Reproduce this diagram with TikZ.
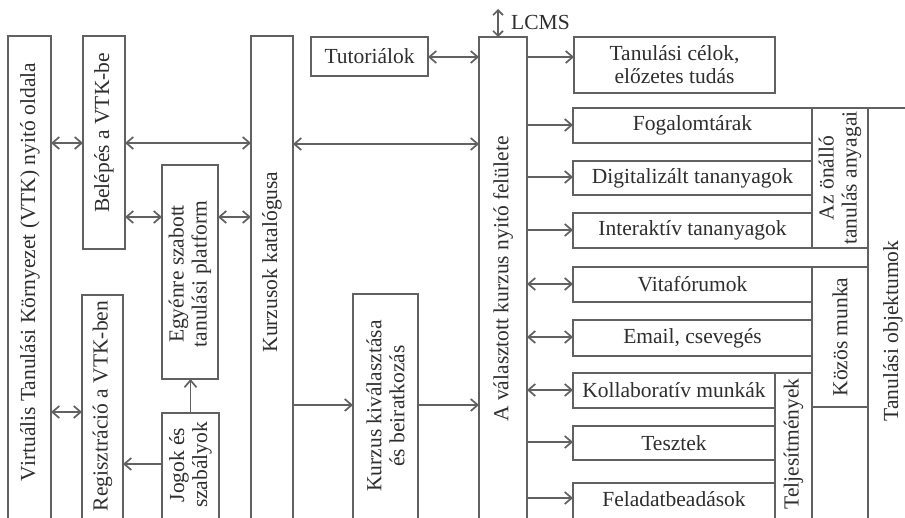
\documentclass[tikz,border=0pt]{standalone}
\usepackage{fontspec}
\setmainfont{Liberation Serif}
\usetikzlibrary{arrows.meta}
\definecolor{linegray}{gray}{0.38}
\definecolor{textgray}{gray}{0.18}
\newcommand\mybox[5]{\node[box, anchor=north west, minimum width={(#4-#2)*1pt}, minimum height={(#5-#3)*1pt}] (#1) at (#2,#3) {};}
\begin{document}
\begin{tikzpicture}[x=1pt,y=-1pt,
  >={Straight Barb[length=7pt,width=12pt,line width=1.7pt]},
  box/.style={draw=linegray, line width=1.2pt, inner sep=0pt, outer sep=0pt},
  txt/.style={text=textgray, font=\fontsize{21.5}{23}\selectfont, align=center, inner sep=0pt},
  vtxt/.style={txt, rotate=90},
  con/.style={draw=linegray, line width=1.2pt, ->},
  bicon/.style={draw=linegray, line width=1.2pt, <->},
]
\path[use as bounding box] (0,0) rectangle (905,517);
\clip (0,0) rectangle (905,517);
\fill[white] (0,0) rectangle (905,517);

% boxes
\mybox{vtk}{8}{36}{51}{540}
\mybox{bel}{83}{36}{125}{249}
\mybox{reg}{82}{295}{123}{540}
\mybox{egy}{162}{165}{218}{379}
\mybox{jog}{162}{413}{219}{540}
\mybox{kat}{251}{36}{293}{540}
\mybox{tut}{311}{37}{428}{76}
\mybox{kiv}{353}{294}{418}{540}
\mybox{val}{479}{37}{527}{540}
\mybox{cel}{574}{37}{775}{93}
\mybox{fog}{573}{108}{812}{143}
\mybox{dig}{573}{161}{812}{195}
\mybox{int}{573}{213}{812}{248}
\mybox{ona}{812}{108}{868}{248}
\mybox{vit}{573}{267}{812}{302}
\mybox{ema}{573}{320}{812}{356}
\mybox{kol}{573}{373}{775}{408}
\mybox{tes}{573}{426}{775}{460}
\mybox{fel}{573}{483}{775}{540}
\mybox{tel}{775}{373}{812}{540}
\mybox{koz}{812}{267}{868}{407}
\mybox{obj}{868}{108}{930}{540}

% texts
\node[vtxt] (tvtk) at (30,272) {Virtuális Tanulási Környezet (VTK) nyitó oldala};
\node[vtxt] (tbel) at (104,133) {Belépés a VTK-be};
\node[vtxt] (treg) at (102.5,406) {Regisztráció a VTK-ben};
\node[vtxt] (tegy) at (190,274) {Egyénre szabott\\tanulási platform};
\node[vtxt] (tjog) at (190.5,465) {Jogok és\\szabályok};
\node[vtxt] (tkat) at (272,262) {Kurzusok katalógusa};
\node[txt] (ttut) at (tut.center) {Tutoriálok};
\node[vtxt] (tkiv) at (385.5,406) {Kurzus kiválasztása\\és beiratkozás};
\node[vtxt] (tval) at (503,279) {A választott kurzus nyitó felülete};
\node[txt, anchor=west] (tlcms) at (511,22) {LCMS};
\node[txt] (tcel) at (cel.center) {Tanulási célok,\\előzetes tudás};
\node[txt] (tfog) at (fog.center) {Fogalomtárak};
\node[txt] (tdig) at (dig.center) {Digitalizált tananyagok};
\node[txt] (tint) at (int.center) {Interaktív tananyagok};
\node[vtxt] (tona) at (ona.center) {Az önálló\\tanulás anyagai};
\node[txt] (tvit) at (vit.center) {Vitafórumok};
\node[txt] (tema) at (ema.center) {Email, csevegés};
\node[txt] (tkol) at (kol.center) {Kollaboratív munkák};
\node[txt] (ttes) at (tes.center) {Tesztek};
\node[txt] (tfel) at (674,499) {Feladatbeadások};
\node[vtxt] (ttel) at (793.5,444) {Teljesítmények};
\node[vtxt] (tkoz) at (koz.center) {Közös munka};
\node[vtxt] (tobj) at (893,331) {Tanulási objektumok};

% connectors
\draw[bicon] (vtk.east |- 0,143) -- (bel.west |- 0,143);
\draw[bicon] (bel.east |- 0,143) -- (kat.west |- 0,143);
\draw[bicon] (vtk.east |- 0,412) -- (reg.west |- 0,412);
\draw[bicon] (bel.east |- 0,217) -- (egy.west |- 0,217);
\draw[bicon] (egy.east |- 0,217) -- (kat.west |- 0,217);
\draw[con] (jog.north) -- (egy.south -| jog.north);
\draw[con] (jog.west |- 0,464) -- (reg.east |- 0,464);
\draw[bicon] (tut.east |- 0,57) -- (val.west |- 0,57);
\draw[bicon] (kat.east |- 0,144) -- (val.west |- 0,144);
\draw[con] (kat.east |- 0,405) -- (kiv.west |- 0,405);
\draw[con] (kiv.east |- 0,405) -- (val.west |- 0,405);
\coordinate (lcmstop) at (498,9);
\draw[draw=linegray, line width=1.2pt, {Straight Barb[length=5pt,width=10pt,line width=1.6pt]}-{Straight Barb[length=5pt,width=10pt,line width=1.6pt]}] (lcmstop) -- (val.north -| lcmstop);
\draw[con] (val.east |- 0,57) -- (cel.west |- 0,57);
\draw[con] (val.east |- 0,125) -- (fog.west |- 0,125);
\draw[con] (val.east |- 0,177) -- (dig.west |- 0,177);
\draw[con] (val.east |- 0,230) -- (int.west |- 0,230);
\draw[bicon] (val.east |- 0,284) -- (vit.west |- 0,284);
\draw[bicon] (val.east |- 0,337) -- (ema.west |- 0,337);
\draw[bicon] (val.east |- 0,390) -- (kol.west |- 0,390);
\draw[con] (val.east |- 0,442) -- (tes.west |- 0,442);
\draw[con] (val.east |- 0,498) -- (fel.west |- 0,498);
\end{tikzpicture}
\end{document}
